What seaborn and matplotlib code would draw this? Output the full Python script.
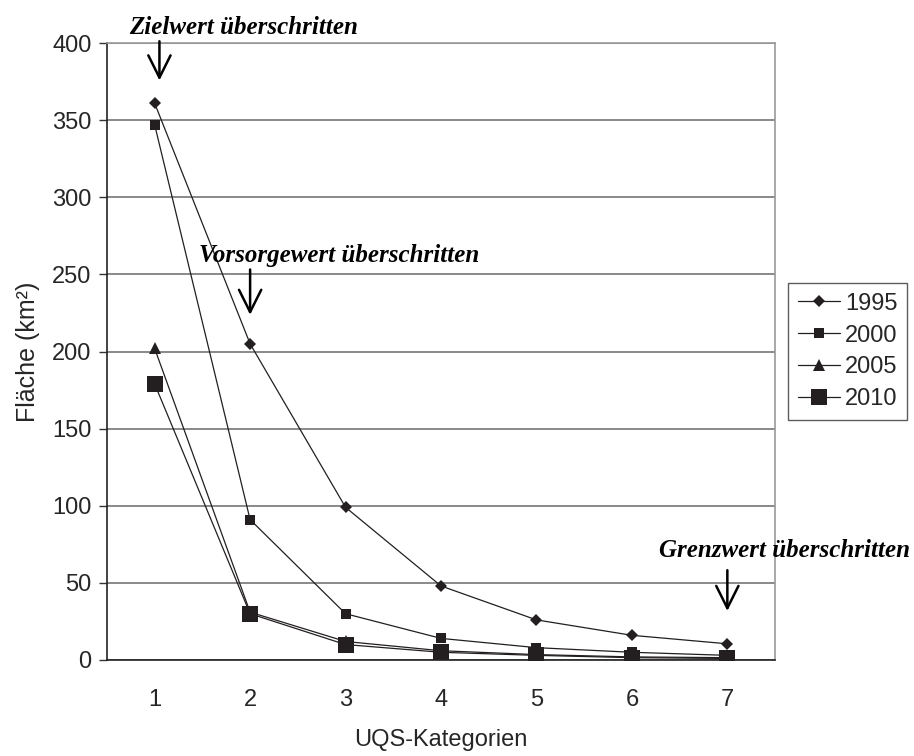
import numpy as np
import pandas as pd
import matplotlib
matplotlib.use("Agg")
import matplotlib.pyplot as plt
import seaborn as sb

# data
categories = [1, 2, 3, 4, 5, 6, 7]
years = ["1995", "2000", "2005", "2010"]
area_1995 = [361, 205, 99, 48, 26, 16, 10.5]
area_2000 = [347, 91, 30, 14, 8, 5, 3]
area_2005 = [202, 31, 12, 6, 3.5, 2, 1.5]
area_2010 = [179, 30, 10, 5, 3, 1.5, 1]

sb.set_style("white")
plt.rcParams["font.family"] = ["Liberation Sans", "DejaVu Sans"]

df = pd.DataFrame({
    "cat": categories * 4,
    "year": np.repeat(years, 7),
    "area": area_1995 + area_2000 + area_2005 + area_2010,
})

fig = plt.figure(figsize=(9.14, 7.56), dpi=100)
ax = fig.add_axes([0.117, 0.127, 0.731, 0.816])

ink = "#231f20"
markers = {"1995": ("D", 6), "2000": ("s", 7.5), "2005": ("^", 8.5), "2010": ("s", 11)}
for yr in years:
    m, ms = markers[yr]
    sb.lineplot(data=df[df["year"] == yr], x="cat", y="area", ax=ax,
                color=ink, marker=m, markersize=ms, markeredgewidth=0,
                linewidth=0.9, label=yr)

ax.set_xlim(0.5, 7.5)
ax.set_ylim(0, 400)
ax.set_yticks(range(0, 401, 50))
ax.set_xticks(categories)
ax.set_xticks(np.arange(0.5, 7.6, 1), minor=True)
ax.tick_params(axis="x", which="major", length=0, labelsize=17, pad=21)
ax.tick_params(axis="x", which="minor", length=6, width=1, color="#555555", direction="out")
ax.tick_params(axis="y", length=6, width=1, direction="out", labelsize=17, pad=5,
               left=True, color="#333333")
ax.yaxis.grid(True, color="#808080", linewidth=1.3)
ax.set_axisbelow(True)

for side in ["left", "bottom"]:
    ax.spines[side].set_color("#222222")
    ax.spines[side].set_linewidth(1.2)
for side in ["top", "right"]:
    ax.spines[side].set_color("#999999")
    ax.spines[side].set_linewidth(1.2)

ax.set_xlabel("UQS-Kategorien", fontsize=17, labelpad=13)
ax.set_ylabel("Fläche (km²)", fontsize=18, labelpad=9)

leg = ax.legend(loc="center left", bbox_to_anchor=(1.02, 0.5), fontsize=17,
                frameon=True, fancybox=False, edgecolor="#333333",
                handlelength=1.8, handletextpad=0.2, borderpad=0.4,
                labelspacing=0.42, borderaxespad=0)
leg.get_frame().set_linewidth(1)

# annotations
note_font = dict(family="Liberation Serif", fontweight="bold", fontstyle="italic",
                 fontsize=18, color="black")
arrow = dict(arrowstyle="->,head_length=1.6,head_width=0.8", color="black", lw=1.8)

ax.text(1.93, 410, "Zielwert überschritten", ha="center", va="center",
        clip_on=False, **note_font)
ax.annotate("", xy=(1.05, 374), xytext=(1.05, 403), arrowprops=arrow, annotation_clip=False)

ax.text(2.93, 262, "Vorsorgewert überschritten", ha="center", va="center", **note_font)
ax.annotate("", xy=(2.0, 222), xytext=(2.0, 255), arrowprops=arrow)

ax.text(7.6, 71, "Grenzwert überschritten", ha="center", va="center",
        clip_on=False, **note_font)
ax.annotate("", xy=(7.0, 30), xytext=(7.0, 60), arrowprops=arrow)

plt.savefig("out.png", dpi=100)
